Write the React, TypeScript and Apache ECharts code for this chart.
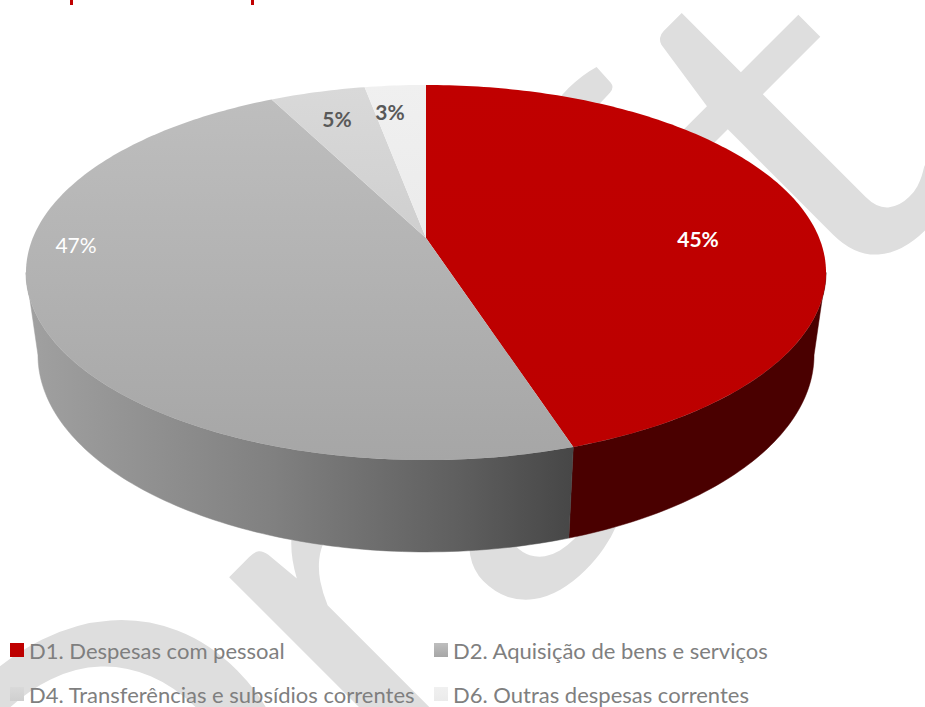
import React, { useEffect, useRef } from "react";
import * as echarts from "echarts";

// Budget shares by spending group
const categories = [
  "D1. Despesas com pessoal",
  "D2. Aquisição de bens e serviços",
  "D4. Transferências e subsídios correntes",
  "D6. Outras despesas correntes",
];
const shares = [45.0, 47.45, 4.6, 2.95];
const faceColors = [
  ["#c00000", "#bc0000"],
  ["#bebebe", "#a6a6a6"],
  ["#d9d9d9", "#cfcfcf"],
  ["#f0f0f0", "#ebebeb"],
];
const labelColors = ["#ffffff", "#ffffff", "#595959", "#595959"];
const labelWeights = ["bold", "normal", "bold", "bold"];

// Screen position of each percentage label
const labelAnchors = [
  [698, 238],
  [76, 244],
  [337, 118],
  [390, 111],
];

const FONT = "Lato, Carlito, sans-serif";
const CX = 426;
const K = 0.184;
// Perspective of the disc: the upper rim and the lower rim of the cylinder
const TOP = { y0: 238, a: 393.2, b: 181.2 };
const BOTTOM = { y0: 318.7, a: 381.4, b: 190.3 };
const TANGENT = (Math.acos(-K) * 180) / Math.PI;

function project(rim: typeof TOP, deg: number, r = 1) {
  const t = (deg * Math.PI) / 180;
  const u = r * Math.sin(t);
  const v = r * Math.cos(t);
  const w = 1 + K * v;
  return [CX + (rim.a * u) / w, rim.y0 - (rim.b * v) / w];
}

function arc(rim: typeof TOP, from: number, to: number) {
  const n = Math.max(2, Math.ceil(Math.abs(to - from)));
  const pts: number[][] = [];
  for (let i = 0; i <= n; i++) pts.push(project(rim, from + ((to - from) * i) / n));
  return pts;
}

const wallFills = [
  "#4a0000",
  new echarts.graphic.LinearGradient(
    32, 0, 571, 0,
    [
      { offset: 0, color: "#a0a0a0" },
      { offset: 0.45, color: "#808080" },
      { offset: 0.8, color: "#5e5e5e" },
      { offset: 1, color: "#474747" },
    ],
    true
  ),
];

const total = shares.reduce((s, v) => s + v, 0);
const spans = shares.map((_, i) => {
  const before = shares.slice(0, i).reduce((s, v) => s + v, 0);
  return [(before / total) * 360, ((before + shares[i]) / total) * 360];
});

function faceGradient(i: number) {
  return new echarts.graphic.LinearGradient(0, 0, 0, 1, [
    { offset: 0, color: faceColors[i][0] },
    { offset: 1, color: faceColors[i][1] },
  ]);
}

const series = categories.map((name, i) => ({
  type: "custom",
  name,
  coordinateSystem: "none",
  silent: true,
  itemStyle: { color: faceGradient(i) },
  data: [[spans[i][0], spans[i][1], shares[i]]],
  renderItem: (_: any, api: any) => {
    const from = api.value(0);
    const to = api.value(1);
    const children: any[] = [];
    const wallFrom = Math.max(from, TANGENT);
    const wallTo = Math.min(to, 360 - TANGENT);
    if (wallTo > wallFrom) {
      const points = [...arc(TOP, wallFrom, wallTo), ...arc(BOTTOM, wallTo, wallFrom)];
      children.push({
        type: "polygon",
        shape: { points },
        style: { fill: wallFills[i], stroke: wallFills[i], lineWidth: 0.5 },
      });
    }
    children.push({
      type: "polygon",
      shape: { points: [[CX, TOP.y0], ...arc(TOP, from, to)] },
      style: { fill: faceGradient(i) },
    });
    children.push({
      type: "text",
      x: labelAnchors[i][0],
      y: labelAnchors[i][1],
      z2: 10,
      style: {
        text: `${Math.round(api.value(2))}%`,
        fill: labelColors[i],
        font: `${labelWeights[i]} 21px ${FONT}`,
        align: "center",
        verticalAlign: "middle",
      },
    });
    return { type: "group", children };
  },
}));

const legendBase = {
  orient: "vertical",
  top: 632,
  height: 120,
  itemWidth: 14,
  itemHeight: 14,
  itemGap: 18,
  icon: "rect",
  selectedMode: false,
  textStyle: { color: "#7f7f7f", fontFamily: FONT, fontSize: 22, lineHeight: 26, padding: [0, 0, 0, 0] },
};

export default function App() {
  const ref = useRef<HTMLDivElement>(null);
  useEffect(() => {
    const chart = echarts.init(ref.current!, undefined, { renderer: "svg" });
    chart.setOption({
      animation: false,
      backgroundColor: "#ffffff",
      legend: [
        { ...legendBase, left: 5, data: [categories[0], categories[2]] },
        { ...legendBase, left: 429, data: [categories[1], categories[3]] },
      ],
      graphic: [
        {
          type: "text",
          x: 116.5,
          y: 1110.5,
          rotation: Math.PI / 4,
          scaleX: 1.16,
          z: -10,
          silent: true,
          style: {
            text: "Draft",
            fill: "#dedede",
            font: `480px ${FONT}`,
            align: "left",
            verticalAlign: "bottom",
          },
        },
        { type: "rect", shape: { x: 70, y: 0, width: 3, height: 5 }, style: { fill: "#c00000" } },
        { type: "rect", shape: { x: 251, y: 0, width: 3, height: 5 }, style: { fill: "#c00000" } },
      ],
      series,
    });
    return () => chart.dispose();
  }, []);
  return <div ref={ref} style={{ position: "fixed", left: 0, top: 0, width: 925, height: 707 }} />;
}
